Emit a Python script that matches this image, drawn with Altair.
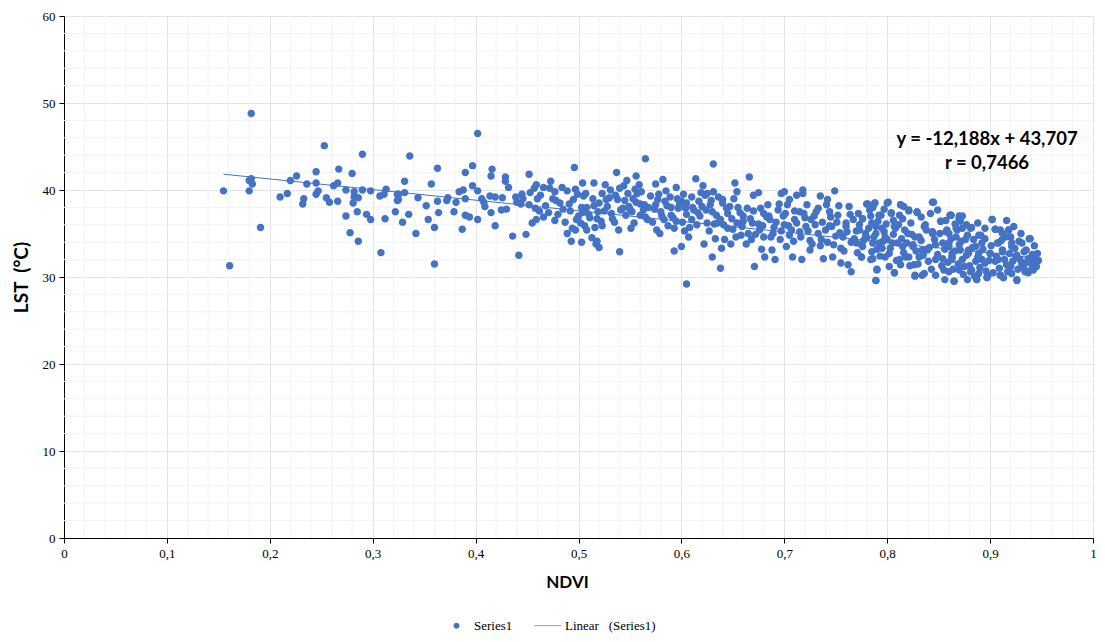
import altair as alt
import pandas as pd

# ---------------- data ----------------
pts_a = [
    (0.182, 48.8), (0.155, 39.9), (0.161, 31.3), (0.180, 39.9), (0.180, 41.1), (0.182, 41.3),
    (0.183, 40.7), (0.191, 35.7), (0.210, 39.2), (0.217, 39.6), (0.220, 41.1), (0.226, 41.6),
    (0.233, 39.0), (0.232, 38.4), (0.236, 40.7), (0.245, 42.1), (0.245, 40.8), (0.247, 39.9),
    (0.245, 39.5), (0.253, 45.1), (0.255, 39.1), (0.258, 38.6), (0.262, 40.5), (0.266, 40.8),
    (0.267, 42.4), (0.266, 38.7), (0.274, 40.0), (0.274, 37.0), (0.278, 35.1), (0.280, 41.9),
    (0.282, 39.8), (0.282, 39.2), (0.286, 39.1), (0.285, 37.5), (0.286, 34.1), (0.290, 44.1),
    (0.290, 40.0), (0.281, 38.5), (0.294, 37.2), (0.298, 39.9), (0.298, 36.6), (0.307, 39.3),
    (0.308, 32.8), (0.312, 36.7), (0.313, 40.1), (0.311, 39.5), (0.322, 37.5), (0.324, 39.5),
    (0.324, 38.8),
]
pts_b = [
    (0.325, 39.5), (0.325, 38.9), (0.329, 36.3), (0.331, 39.7), (0.331, 41.0), (0.336, 43.9),
    (0.335, 37.2), (0.342, 35.0), (0.344, 39.1), (0.352, 38.2), (0.354, 36.6), (0.357, 40.7),
    (0.360, 35.7), (0.360, 31.5), (0.363, 42.5), (0.363, 38.7), (0.364, 37.4), (0.372, 38.8),
    (0.373, 39.1), (0.379, 37.5), (0.381, 38.6), (0.384, 39.8), (0.387, 35.5), (0.388, 40.0),
    (0.390, 42.0), (0.390, 39.0), (0.390, 37.1), (0.394, 36.9), (0.397, 42.8), (0.397, 40.5),
    (0.402, 46.5), (0.402, 39.9), (0.402, 36.6), (0.406, 39.0), (0.408, 38.6), (0.409, 38.1),
    (0.414, 39.3), (0.415, 37.4), (0.415, 41.6), (0.416, 42.4), (0.419, 39.2), (0.419, 35.9),
    (0.425, 37.7), (0.426, 39.1), (0.429, 41.5), (0.429, 41.0), (0.430, 37.8), (0.432, 40.3),
    (0.436, 34.7), (0.439, 39.2), (0.440, 38.6), (0.442, 32.5), (0.444, 38.4), (0.445, 39.5),
    (0.446, 39.0), (0.449, 34.9), (0.452, 41.8), (0.453, 39.7), (0.455, 36.2), (0.457, 40.2),
    (0.459, 40.6), (0.459, 36.6), (0.460, 39.0), (0.462, 37.6), (0.466, 40.3), (0.466, 36.9),
    (0.472, 40.2), (0.473, 41.0), (0.477, 39.8), (0.477, 36.5), (0.478, 38.8), (0.482, 38.5),
    (0.485, 37.8), (0.489, 35.0), (0.489, 39.9), (0.491, 38.4), (0.493, 34.1), (0.494, 35.6),
    (0.496, 42.6), (0.497, 40.1), (0.497, 35.4), (0.499, 39.5), (0.498, 36.6), (0.503, 38.0),
    (0.503, 34.0), (0.504, 40.8), (0.504, 37.4), (0.506, 35.9), (0.508, 38.0), (0.508, 35.4),
    (0.513, 34.5), (0.515, 38.2), (0.516, 35.7), (0.517, 33.8),
]
pts_c = [
    (0.518, 36.7), (0.518, 34.1), (0.520, 33.4), (0.523, 39.6), (0.523, 35.9), (0.526, 40.6),
    (0.528, 38.1), (0.531, 40.0), (0.533, 36.7), (0.537, 42.0), (0.538, 38.9), (0.540, 32.9),
    (0.541, 37.7), (0.544, 40.5), (0.546, 37.1), (0.547, 41.1), (0.549, 38.1), (0.551, 35.6),
    (0.553, 39.0), (0.554, 36.2), (0.556, 41.6), (0.557, 39.6), (0.559, 40.6), (0.560, 37.1),
    (0.564, 38.3), (0.565, 43.6), (0.567, 36.6), (0.575, 38.3), (0.576, 35.4), (0.578, 39.5),
    (0.579, 35.0), (0.581, 37.0), (0.582, 41.2), (0.584, 38.7), (0.587, 35.9), (0.590, 37.1),
    (0.593, 35.6), (0.593, 33.0), (0.595, 40.3), (0.596, 39.0), (0.597, 37.9), (0.600, 33.5),
    (0.602, 39.5), (0.603, 35.3), (0.605, 38.5), (0.605, 29.2), (0.607, 34.6), (0.610, 36.6),
    (0.612, 37.7), (0.614, 41.3), (0.617, 38.7), (0.618, 37.0), (0.621, 40.5), (0.622, 33.8),
    (0.623, 39.4), (0.625, 36.2), (0.628, 38.3), (0.630, 32.3), (0.631, 43.0), (0.631, 39.8),
    (0.633, 34.4), (0.634, 37.1), (0.638, 36.6), (0.638, 31.0), (0.639, 33.3), (0.640, 38.9),
    (0.642, 34.3), (0.645, 35.6), (0.647, 38.1), (0.648, 33.8), (0.651, 39.0), (0.652, 40.8),
    (0.654, 39.8), (0.654, 36.2), (0.658, 34.8), (0.660, 37.0), (0.663, 33.8), (0.666, 41.5),
    (0.667, 36.7), (0.668, 34.3), (0.670, 39.4), (0.671, 31.2), (0.675, 39.7), (0.676, 35.4),
    (0.678, 33.2), (0.680, 37.3), (0.681, 32.3), (0.684, 38.3), (0.686, 36.6), (0.688, 33.1),
    (0.689, 35.0), (0.691, 32.0), (0.694, 37.7), (0.696, 34.3), (0.699, 37.0), (0.700, 39.8),
    (0.702, 33.5), (0.705, 38.9), (0.707, 35.4), (0.708, 32.3), (0.710, 36.6),
]
pts_c2 = [
    (0.505, 39.3), (0.510, 37.2), (0.515, 40.8), (0.520, 38.5), (0.525, 37.6), (0.530, 39.1),
    (0.535, 36.3), (0.540, 40.2), (0.545, 38.8), (0.550, 37.8), (0.555, 40.1), (0.560, 38.4),
    (0.565, 36.9), (0.570, 39.3), (0.575, 40.7), (0.580, 37.5), (0.585, 39.9), (0.590, 38.0),
    (0.595, 36.4), (0.600, 38.7), (0.605, 37.2), (0.610, 39.2), (0.615, 36.0), (0.620, 38.1),
    (0.625, 39.6), (0.630, 37.5), (0.635, 36.2), (0.640, 38.5), (0.645, 37.3), (0.650, 35.5),
    (0.655, 38.0), (0.660, 36.4), (0.665, 35.0), (0.670, 37.6), (0.675, 36.1), (0.680, 34.6),
    (0.685, 37.0), (0.690, 35.7), (0.695, 38.4), (0.700, 36.0), (0.705, 34.8), (0.710, 37.6),
    (0.715, 35.2), (0.720, 36.8), (0.725, 34.2), (0.730, 36.0), (0.735, 33.6), (0.740, 35.4),
    (0.745, 36.9), (0.750, 34.7), (0.755, 33.3), (0.760, 36.2), (0.765, 34.0), (0.770, 35.3),
    (0.775, 33.7), (0.780, 34.5), (0.785, 36.2), (0.790, 33.2), (0.795, 35.6), (0.800, 34.3),
]
pts_d = [
    (0.718, 40.0), (0.718, 39.6), (0.717, 32.0), (0.715, 37.5), (0.721, 35.8), (0.725, 33.1),
    (0.726, 36.6), (0.731, 37.5), (0.735, 39.3), (0.736, 34.3), (0.738, 32.1), (0.741, 38.3),
    (0.744, 37.5), (0.746, 35.8), (0.747, 32.3), (0.749, 39.9), (0.752, 37.1), (0.755, 31.6),
    (0.757, 34.6), (0.760, 35.8), (0.762, 31.4), (0.765, 30.6), (0.767, 36.6), (0.770, 33.9),
    (0.775, 32.3), (0.776, 36.7), (0.779, 35.0), (0.780, 38.4), (0.783, 37.7), (0.784, 32.0),
    (0.788, 38.5), (0.789, 29.6), (0.789, 35.8), (0.790, 30.8), (0.792, 33.9), (0.794, 37.1),
    (0.797, 35.2), (0.800, 38.5), (0.802, 32.7), (0.804, 37.4), (0.807, 35.8), (0.807, 30.5),
    (0.810, 33.9), (0.813, 38.3), (0.815, 36.7), (0.818, 32.3), (0.820, 35.0), (0.821, 37.7),
    (0.825, 33.5), (0.826, 31.4), (0.827, 30.2), (0.829, 37.5), (0.831, 34.6), (0.834, 30.2),
    (0.836, 35.8), (0.839, 33.1), (0.844, 38.6), (0.844, 35.2), (0.847, 32.0), (0.852, 36.4),
    (0.854, 33.9), (0.855, 30.8), (0.858, 35.4), (0.861, 37.1), (0.863, 32.3), (0.865, 29.5),
    (0.867, 34.6), (0.870, 36.7), (0.871, 33.1), (0.873, 35.6), (0.875, 31.2),
]
pts_e = [
    (0.870, 36.7), (0.873, 37.0), (0.868, 35.4), (0.876, 34.3), (0.881, 35.6), (0.879, 32.7),
    (0.882, 30.8), (0.886, 33.5), (0.887, 29.7), (0.889, 34.8), (0.892, 32.0), (0.895, 34.4),
    (0.897, 30.0), (0.900, 32.7), (0.902, 36.6), (0.905, 35.5), (0.907, 33.9), (0.908, 32.0),
    (0.910, 30.2), (0.912, 33.1), (0.915, 34.6), (0.918, 35.4), (0.920, 31.2), (0.921, 33.5),
    (0.925, 32.3), (0.926, 29.7), (0.928, 34.1), (0.931, 31.6), (0.933, 32.9), (0.934, 30.8),
    (0.938, 34.4), (0.939, 32.1), (0.942, 30.8), (0.944, 32.3), (0.946, 32.7), (0.945, 31.2),
]
pts_f = [
    (0.781, 38.4), (0.788, 38.5), (0.801, 38.6), (0.813, 38.3), (0.845, 38.6), (0.821, 37.6),
    (0.829, 37.4), (0.862, 37.1), (0.837, 36.0), (0.852, 36.4), (0.776, 36.7), (0.784, 37.0),
    (0.792, 37.1), (0.804, 37.3), (0.812, 37.1), (0.773, 35.4), (0.779, 34.6), (0.789, 35.0),
    (0.798, 34.6), (0.808, 35.6), (0.817, 35.4), (0.827, 34.6), (0.844, 35.0), (0.857, 35.2),
    (0.776, 33.5), (0.786, 33.9), (0.795, 33.3), (0.805, 33.9), (0.815, 33.5), (0.825, 33.7),
    (0.834, 33.1), (0.847, 33.7), (0.860, 33.9), (0.775, 32.3), (0.786, 32.1), (0.798, 32.3),
    (0.812, 32.0), (0.821, 32.3), (0.831, 32.3), (0.840, 31.8), (0.854, 32.1), (0.863, 32.3),
    (0.790, 30.9), (0.807, 30.5), (0.827, 30.1), (0.836, 30.4), (0.847, 30.2), (0.856, 29.7),
    (0.789, 29.6), (0.813, 31.4), (0.802, 31.2),
]
pts_g = [
    (0.862, 37.1), (0.870, 37.0), (0.871, 36.4), (0.902, 36.6), (0.882, 35.7), (0.905, 35.5),
    (0.910, 35.4), (0.918, 35.4), (0.939, 34.4), (0.931, 33.9), (0.860, 35.0), (0.867, 35.6),
    (0.878, 34.8), (0.891, 34.8), (0.892, 33.9), (0.908, 33.9), (0.920, 34.6), (0.921, 33.9),
    (0.860, 33.5), (0.870, 33.7), (0.879, 33.1), (0.900, 32.7), (0.912, 32.9), (0.926, 32.5),
    (0.937, 32.1), (0.944, 32.0), (0.863, 32.0), (0.873, 32.0), (0.886, 31.8), (0.895, 31.6),
    (0.905, 31.8), (0.916, 31.4), (0.931, 31.4), (0.941, 31.0), (0.860, 30.6), (0.870, 30.8),
    (0.881, 30.6), (0.889, 30.4), (0.898, 30.2), (0.910, 30.2), (0.921, 30.4), (0.934, 30.6),
    (0.865, 29.5), (0.878, 29.7), (0.887, 29.7), (0.897, 29.9), (0.913, 29.9), (0.926, 29.6),
    (0.863, 32.7), (0.889, 32.7), (0.884, 34.3),
]
pts_h = [
    (0.452, 38.3), (0.458, 37.9), (0.463, 39.4), (0.468, 38.2), (0.471, 37.4), (0.475, 39.0),
    (0.480, 37.2), (0.484, 40.3), (0.487, 36.3), (0.492, 37.6), (0.495, 38.9), (0.500, 37.0),
    (0.502, 36.2), (0.507, 39.6), (0.511, 36.8), (0.514, 39.0), (0.519, 37.5), (0.522, 36.4),
    (0.527, 38.9), (0.532, 37.3), (0.536, 39.4), (0.539, 35.4), (0.543, 37.9), (0.548, 39.6),
    (0.552, 37.5), (0.556, 38.6), (0.561, 39.8), (0.563, 37.7), (0.568, 38.0), (0.572, 36.3),
    (0.574, 37.8), (0.577, 38.9), (0.583, 36.6), (0.586, 38.2), (0.589, 39.2), (0.592, 36.8),
    (0.598, 38.3), (0.601, 36.3), (0.604, 37.9), (0.608, 35.7), (0.611, 38.0), (0.616, 37.4),
    (0.619, 39.7), (0.624, 37.7), (0.627, 35.3), (0.629, 38.8), (0.632, 36.1), (0.636, 39.2),
    (0.641, 36.0), (0.644, 37.9), (0.649, 36.7), (0.653, 34.6), (0.657, 37.4), (0.659, 35.8),
    (0.664, 37.9), (0.669, 36.2), (0.672, 34.9), (0.677, 37.9), (0.679, 35.9), (0.683, 36.9),
    (0.687, 34.6), (0.692, 36.3), (0.697, 35.3), (0.701, 37.3), (0.704, 35.9), (0.709, 34.1),
    (0.712, 36.2), (0.716, 34.6), (0.719, 37.3), (0.723, 35.3), (0.727, 33.8), (0.729, 37.0),
    (0.733, 35.0), (0.737, 36.3), (0.742, 34.0), (0.744, 35.9), (0.748, 33.7), (0.751, 36.3),
    (0.754, 35.1), (0.758, 33.0), (0.761, 35.2), (0.764, 37.2), (0.768, 34.4), (0.771, 32.8),
    (0.773, 36.0), (0.777, 34.2), (0.782, 35.6), (0.785, 32.9), (0.787, 34.6), (0.791, 36.4),
    (0.793, 32.4), (0.796, 34.1), (0.799, 36.1), (0.803, 33.3), (0.806, 34.9), (0.809, 31.9),
    (0.811, 36.0), (0.814, 34.4), (0.816, 32.8), (0.819, 33.9), (0.822, 31.3), (0.824, 34.9),
    (0.828, 33.0), (0.830, 31.5), (0.833, 34.2), (0.835, 32.5), (0.838, 35.4), (0.841, 33.4),
    (0.843, 30.9), (0.846, 34.3), (0.849, 32.6), (0.851, 35.0), (0.853, 31.3), (0.856, 33.2),
    (0.859, 31.7), (0.862, 34.4), (0.864, 30.9), (0.866, 33.0), (0.869, 31.5), (0.872, 34.1),
    (0.874, 30.3), (0.877, 32.5), (0.880, 31.3), (0.883, 33.4), (0.885, 30.1), (0.888, 32.3),
    (0.890, 31.1), (0.893, 33.2), (0.896, 30.7), (0.899, 31.9), (0.901, 33.6), (0.903, 30.5),
    (0.906, 32.4), (0.909, 31.0), (0.911, 34.2), (0.914, 32.0), (0.917, 30.6), (0.919, 32.7),
    (0.922, 31.8), (0.924, 33.3), (0.927, 30.9), (0.929, 32.0), (0.932, 31.2), (0.935, 33.1),
    (0.937, 30.5), (0.940, 31.6), (0.943, 33.6), (0.947, 31.9), (0.941, 32.6), (0.936, 31.7),
    (0.930, 35.0), (0.923, 35.8), (0.916, 36.5), (0.912, 35.0), (0.895, 35.6), (0.888, 36.2),
    (0.877, 36.0), (0.866, 36.1), (0.857, 36.5), (0.849, 37.7), (0.842, 37.3), (0.833, 36.9),
    (0.823, 36.2), (0.816, 38.1), (0.806, 36.5), (0.797, 37.8), (0.786, 38.0), (0.772, 37.3),
    (0.763, 38.1), (0.753, 38.2), (0.742, 38.9), (0.733, 37.9), (0.722, 38.3), (0.712, 39.4),
    (0.703, 38.3), (0.697, 39.6),
]

# trend line as printed on the chart
slope = -12.188
intercept = 43.707
trend_x = [0.155, 0.946]

x_ticks = [0, 0.1, 0.2, 0.3, 0.4, 0.5, 0.6, 0.7, 0.8, 0.9, 1.0]
y_ticks = [0, 10, 20, 30, 40, 50, 60]
x_minor = [round(i / 50, 2) for i in range(51) if i % 5 != 0]
y_minor = [v for v in range(0, 61, 2) if v % 10 != 0]

series_names = ["Series1", "Linear\u00a0\u00a0 (Series1)"]

# ---------------- chart ----------------
BLUE = "#4472C4"
SERIF = "Liberation Serif"
SANS = "Lato"

all_pts = pts_a + pts_b + pts_c + pts_c2 + pts_d + pts_e + pts_f + pts_g + pts_h
df = pd.DataFrame(all_pts, columns=["NDVI", "LST"])
df["series"] = series_names[0]

xscale = alt.Scale(domain=[0, 1], nice=False, zero=False)
yscale = alt.Scale(domain=[0, 60], nice=False, zero=False)

circle_path = "M-0.22,0A0.22,0.22,0,1,1,0.22,0A0.22,0.22,0,1,1,-0.22,0Z"
line_path = "M-1,-0.025L1,-0.025L1,0.025L-1,0.025Z"

x_axis = alt.Axis(
    values=x_ticks, grid=True, gridColor="#dfe3ea", domainColor="#000000",
    tickColor="#000000", tickSize=5, labelFont=SERIF, labelFontSize=13,
    labelColor="#000000", labelPadding=4, labelFlush=False,
    labelExpr="replace(format(datum.value, '~g'), '.', ',')",
    title="NDVI", titleFont=SANS, titleFontSize=17, titleFontWeight="bold",
    titleColor="#000000", titlePadding=14, titleX=503,
)
y_axis = alt.Axis(
    values=y_ticks, grid=True, gridColor="#dfe3ea", domainColor="#000000",
    tickColor="#000000", tickSize=5, labelFont=SERIF, labelFontSize=13,
    labelColor="#000000", labelPadding=4, labelFlush=False,
    title="LST\u00a0 (°C)", titleFont=SANS, titleFontSize=19, titleFontWeight="bold",
    titleColor="#000000", titlePadding=11,
)

minor_x = alt.Chart(pd.DataFrame({"v": x_minor})).mark_rule(
    color="#f1f3f6", strokeWidth=1
).encode(x=alt.X("v:Q", scale=xscale, axis=x_axis))

minor_y = alt.Chart(pd.DataFrame({"v": y_minor})).mark_rule(
    color="#f1f3f6", strokeWidth=1
).encode(y=alt.Y("v:Q", scale=yscale, axis=y_axis))

scatter = alt.Chart(df).mark_point(filled=True, opacity=1, size=1150).encode(
    x=alt.X("NDVI:Q", scale=xscale, axis=x_axis),
    y=alt.Y("LST:Q", scale=yscale, axis=y_axis),
    color=alt.value(BLUE),
    shape=alt.Shape(
        "series:N",
        scale=alt.Scale(domain=series_names, range=[circle_path, line_path]),
        legend=alt.Legend(
            title=None, orient="none", direction="horizontal",
            legendX=379, legendY=596, symbolSize=729,
            symbolFillColor=BLUE, symbolStrokeWidth=0, symbolOpacity=1,
            labelFont=SERIF, labelFontSize=13, labelColor="#000000",
            labelOffset=4, columnPadding=21, padding=0, labelLimit=300,
        ),
    ),
)

trend = alt.Chart(pd.DataFrame({"NDVI": trend_x})).transform_calculate(
    LST=f"{slope} * datum.NDVI + {intercept}"
).mark_line(color=BLUE, strokeWidth=1).encode(
    x=alt.X("NDVI:Q", scale=xscale, axis=x_axis),
    y=alt.Y("LST:Q", scale=yscale, axis=y_axis),
)

eq_text = alt.Chart(pd.DataFrame({"t": ["y = -12,188x + 43,707"]})).mark_text(
    font=SANS, fontSize=18.5, fontWeight="bold", color="#000000", align="center", baseline="middle"
).encode(text="t:N", x=alt.value(923), y=alt.value(123))

r_text = alt.Chart(pd.DataFrame({"t": ["r = 0,7466"]})).mark_text(
    font=SANS, fontSize=18.5, fontWeight="bold", color="#000000", align="center", baseline="middle"
).encode(text="t:N", x=alt.value(923), y=alt.value(147))

chart = alt.layer(minor_x, minor_y, scatter, trend, eq_text, r_text).properties(
    width=1029, height=522,
    autosize=alt.AutoSizeParams(type="none"),
    padding={"left": 56, "top": 8, "right": 4, "bottom": 96},
    background="#ffffff",
).configure_view(stroke=None)

chart.save("out.html", embed_options={"renderer": "svg", "actions": False})
